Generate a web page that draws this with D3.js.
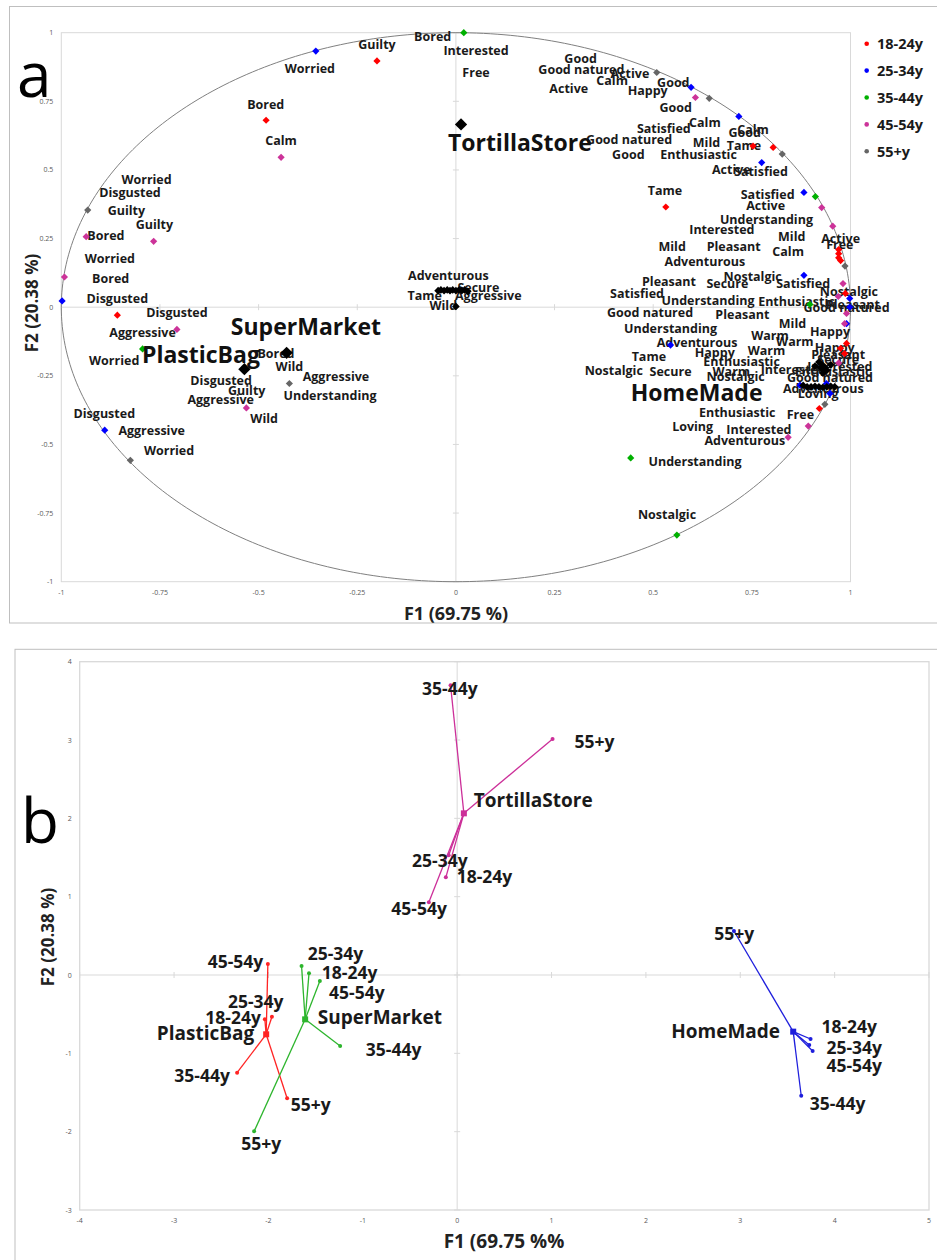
<!DOCTYPE html>
<html><head><meta charset="utf-8">
<script src="https://cdn.jsdelivr.net/npm/d3@7"></script>
<style>body{margin:0;background:#fff} svg{display:block} text{font-family:"Open Sans",sans-serif}</style>
</head><body><svg id="c" width="937" height="1260"></svg>
<script>
// ---------- Panel a data: variable coordinates (F1, F2) by age group ----------
const groupNames = ["18-24y","25-34y","35-44y","45-54y","55+y"];
const groupColors = ["#ff0000","#0000ff","#00b000","#cc3399","#666666"];
const ptsA_18_24 = [[-0.200,0.897],[-0.481,0.681],[-0.858,-0.029],[0.532,0.365],[0.753,0.587],[0.804,0.582],[0.970,0.210],[0.970,0.195],[0.970,0.180],[0.975,0.170],[0.987,0.050],[0.990,-0.132],[0.985,-0.169],[0.975,-0.150],[0.921,-0.369]];
const ptsA_25_34 = [[-0.355,0.933],[-0.998,0.023],[-0.890,-0.448],[0.596,0.801],[0.717,0.695],[0.775,0.527],[0.882,0.418],[0.882,0.116],[0.998,0.032],[0.998,0.000],[0.544,-0.138],[0.990,-0.060],[0.872,-0.284],[0.939,-0.278],[0.948,-0.314]];
const ptsA_35_44 = [[0.020,1.000],[-0.794,-0.152],[0.911,0.403],[0.897,0.010],[0.443,-0.549],[0.560,-0.830]];
const ptsA_45_54 = [[-0.443,0.546],[-0.937,0.257],[-0.766,0.240],[-0.992,0.110],[-0.707,-0.081],[-0.531,-0.367],[0.607,0.764],[0.927,0.363],[0.955,0.295],[0.981,0.086],[0.969,0.039],[0.990,-0.023],[0.985,-0.060],[0.970,-0.203],[0.893,-0.433],[0.842,-0.474]];
const ptsA_55 = [[-0.933,0.354],[-0.422,-0.278],[-0.825,-0.558],[0.509,0.855],[0.642,0.761],[0.827,0.558],[0.986,0.150],[0.935,-0.354]];
const smallBlackA = [[-0.045,0.060],[-0.038,0.063],[-0.030,0.060],[-0.022,0.063],[-0.015,0.060],[-0.008,0.063],[0.000,0.060],[0.008,0.063],[0.015,0.060],[0.022,0.063],[0.030,0.058],[0.000,0.003],
  [0.880,-0.285],[0.890,-0.290],[0.900,-0.290],[0.910,-0.288],[0.920,-0.290],[0.930,-0.292],[0.940,-0.290],[0.950,-0.288],[0.960,-0.290],[0.930,-0.240],[0.940,-0.230],[0.950,-0.210],[0.920,-0.200],[0.910,-0.215]];
const productsA = [["TortillaStore",0.013,0.666],["PlasticBag",-0.536,-0.226],["SuperMarket",-0.429,-0.166],["HomeMade",0.930,-0.220]];
const productLabelsA = [["TortillaStore",0.162,0.601],["SuperMarket",-0.380,-0.069],["PlasticBag",-0.646,-0.169],["HomeMade",0.610,-0.308]];
const wordLabelsA = [
["Bored",-0.059,0.987],["Interested",0.051,0.936],["Free",0.051,0.855],["Worried",-0.370,0.870],["Guilty",-0.200,0.958],
["Bored",-0.482,0.740],["Calm",-0.443,0.608],["Worried",-0.784,0.466],["Disgusted",-0.826,0.418],["Guilty",-0.835,0.353],
["Bored",-0.887,0.261],["Guilty",-0.764,0.300],["Worried",-0.877,0.179],["Bored",-0.875,0.106],["Disgusted",-0.858,0.033],
["Disgusted",-0.707,-0.021],["Aggressive",-0.794,-0.092],["Worried",-0.866,-0.195],["Bored",-0.456,-0.169],["Wild",-0.422,-0.217],
["Aggressive",-0.304,-0.254],["Understanding",-0.319,-0.321],["Disgusted",-0.595,-0.266],["Guilty",-0.530,-0.305],["Aggressive",-0.596,-0.337],
["Wild",-0.486,-0.407],["Disgusted",-0.891,-0.387],["Aggressive",-0.771,-0.450],["Worried",-0.727,-0.523],
["Adventurous",-0.019,0.114],["Secure",0.057,0.072],["Tame",-0.079,0.044],["Aggressive",0.082,0.044],["Wild",-0.032,0.005],
["Good",0.316,0.906],["Good natured",0.318,0.866],["Active",0.286,0.796],["Active",0.441,0.853],["Calm",0.396,0.826],
["Happy",0.486,0.790],["Good",0.551,0.817],["Good",0.557,0.726],["Satisfied",0.527,0.651],["Calm",0.631,0.672],
["Calm",0.753,0.649],["Good",0.732,0.636],["Good natured",0.439,0.610],["Mild",0.635,0.601],["Tame",0.730,0.589],
["Good",0.437,0.557],["Enthusiastic",0.615,0.557],["Active",0.698,0.501],["Satisfied",0.773,0.493],["Tame",0.530,0.426],
["Satisfied",0.790,0.410],["Active",0.785,0.370],["Understanding",0.787,0.319],["Interested",0.674,0.283],["Mild",0.851,0.258],
["Active",0.975,0.249],["Free",0.973,0.229],["Mild",0.548,0.220],["Pleasant",0.704,0.222],["Calm",0.842,0.204],
["Adventurous",0.631,0.166],["Pleasant",0.540,0.095],["Secure",0.688,0.086],["Nostalgic",0.752,0.113],["Satisfied",0.880,0.085],
["Nostalgic",0.996,0.058],["Satisfied",0.459,0.050],["Understanding",0.639,0.025],["Enthusiastic",0.863,0.019],["Pleasant",1.006,0.011],
["Good natured",0.990,-0.001],["Good natured",0.492,-0.020],["Pleasant",0.726,-0.028],["Understanding",0.544,-0.079],["Mild",0.853,-0.059],
["Happy",0.948,-0.087],["Warm",0.796,-0.102],["Warm",0.859,-0.124],["Adventurous",0.611,-0.127],["Happy",0.960,-0.145],
["Warm",0.787,-0.157],["Tame",0.489,-0.178],["Happy",0.656,-0.166],["Enthusiastic",0.724,-0.197],["Pleasant",0.969,-0.171],
["Secure",0.969,-0.191],["Nostalgic",0.400,-0.232],["Secure",0.544,-0.233],["Warm",0.698,-0.236],["Nostalgic",0.709,-0.254],
["Interested",0.855,-0.226],["Interested",0.973,-0.215],["Enthusiastic",0.956,-0.236],["Good natured",0.948,-0.257],["Adventurous",0.931,-0.296],
["Loving",0.918,-0.314],["Enthusiastic",0.713,-0.382],["Free",0.873,-0.391],["Loving",0.600,-0.436],["Interested",0.768,-0.445],
["Adventurous",0.732,-0.487],["Understanding",0.606,-0.563],["Nostalgic",0.535,-0.757]];
const ticksA = [-1,-0.75,-0.5,-0.25,0,0.25,0.5,0.75,1];

// ---------- Panel b data: product centroids and partial points by age group ----------
const productsB = [["TortillaStore",0.071,2.064],["PlasticBag",-2.024,-0.757],["SuperMarket",-1.611,-0.566],["HomeMade",3.561,-0.723]];
const productColorsB = ["#cc2f99","#ff2424","#2db52d","#1e1edc"];
const productLabelsB = [["TortillaStore",0.806,2.234],["PlasticBag",-2.667,-0.744],["SuperMarket",-0.819,-0.532],["HomeMade",2.845,-0.715]];
const ageB_Tortilla = [["18-24y",-0.120,1.247],["25-34y",-0.090,1.530],["35-44y",-0.070,3.700],["45-54y",-0.300,0.928],["55+y",1.011,3.013]];
const ageB_PlasticBag = [["18-24y",-2.038,-0.566],["25-34y",-1.963,-0.532],["35-44y",-2.332,-1.247],["45-54y",-2.006,0.140],["55+y",-1.802,-1.574]];
const ageB_SuperMarket = [["18-24y",-1.570,0.021],["25-34y",-1.649,0.115],["35-44y",-1.240,-0.906],["45-54y",-1.455,-0.077],["55+y",-2.152,-1.996]];
const ageB_HomeMade = [["18-24y",3.745,-0.817],["25-34y",3.731,-0.894],["35-44y",3.646,-1.541],["45-54y",3.767,-0.970],["55+y",2.933,0.562]];
const ageLabelsB_Tortilla = [["18-24y",0.290,1.268],["25-34y",-0.183,1.468],["35-44y",-0.077,3.668],["45-54y",-0.403,0.852],["55+y",1.454,2.987]];
const ageLabelsB_PlasticBag = [["18-24y",-2.374,-0.540],["25-34y",-2.134,-0.332],["35-44y",-2.703,-1.277],["45-54y",-2.349,0.179],["55+y",-1.551,-1.651]];
const ageLabelsB_SuperMarket = [["18-24y",-1.140,0.042],["25-34y",-1.289,0.277],["35-44y",-0.674,-0.945],["45-54y",-1.063,-0.221],["55+y",-2.077,-2.149]];
const ageLabelsB_HomeMade = [["18-24y",4.155,-0.647],["25-34y",4.208,-0.923],["35-44y",4.032,-1.630],["45-54y",4.208,-1.149],["55+y",2.936,0.540]];
const ticksBx = [-4,-3,-2,-1,0,1,2,3,4,5];
const ticksBy = [-3,-2,-1,0,1,2,3,4];

const svg = d3.select("#c");
const gridCol = "#d9d9d9", tickCol = "#595959";

// ================= PANEL A =================
svg.append("rect").attr("x",9.5).attr("y",6.5).attr("width",940).attr("height",616.5).attr("fill","none").attr("stroke","#bfbfbf");
const xA = d3.scaleLinear([-1,1],[61.3,850.5]);
const yA = d3.scaleLinear([-1,1],[581.7,32.7]);
const gA = svg.append("g");
gA.append("rect").attr("x",xA(-1)).attr("y",yA(1)).attr("width",xA(1)-xA(-1)).attr("height",yA(-1)-yA(1)).attr("fill","none").attr("stroke",gridCol);
gA.append("line").attr("x1",xA(-1)).attr("x2",xA(1)).attr("y1",yA(0)).attr("y2",yA(0)).attr("stroke",gridCol);
gA.append("line").attr("x1",xA(0)).attr("x2",xA(0)).attr("y1",yA(-1)).attr("y2",yA(1)).attr("stroke",gridCol);
gA.selectAll(".tx").data(ticksA).join("line").attr("x1",d=>xA(d)).attr("x2",d=>xA(d)).attr("y1",yA(0)-3).attr("y2",yA(0)+3).attr("stroke",gridCol);
gA.selectAll(".ty").data(ticksA).join("line").attr("y1",d=>yA(d)).attr("y2",d=>yA(d)).attr("x1",xA(0)-3).attr("x2",xA(0)+3).attr("stroke",gridCol);
gA.selectAll(".txl").data(ticksA).join("text").attr("x",d=>xA(d)).attr("y",yA(-1)+13).attr("text-anchor","middle").attr("font-size",7).attr("fill",tickCol).attr("font-family","Liberation Sans").text(d=>d);
gA.selectAll(".tyl").data(ticksA).join("text").attr("x",xA(-1)-8).attr("y",d=>yA(d)+2.5).attr("text-anchor","end").attr("font-size",7).attr("fill",tickCol).attr("font-family","Liberation Sans").text(d=>d);
// correlation circle
const ang = d3.range(0,361,1).map(a=>a*Math.PI/180);
gA.append("path").attr("d",d3.line().x(a=>xA(Math.cos(a))).y(a=>yA(Math.sin(a)))(ang)).attr("fill","none").attr("stroke","#808080").attr("stroke-width",1);
// axis titles
svg.append("text").attr("x",456).attr("y",613).attr("text-anchor","middle").attr("dominant-baseline","central").attr("font-size",18).attr("font-weight","bold").attr("fill","#222").text("F1 (69.75 %)");
svg.append("text").attr("transform","translate(31,303) rotate(-90)").attr("text-anchor","middle").attr("dominant-baseline","central").attr("font-size",17).attr("font-weight","bold").attr("fill","#222").text("F2 (20.38 %)");
// word labels
gA.selectAll(".wl").data(wordLabelsA).join("text").attr("x",d=>xA(d[1])).attr("y",d=>yA(d[2])).attr("text-anchor","middle").attr("dominant-baseline","central").attr("font-size",12.5).attr("font-weight","bold").attr("fill","#1a1a1a").text(d=>d[0]);
// colored diamonds
const diamond = d3.symbol().type(d3.symbolSquare);
const groupsA = [ptsA_18_24, ptsA_25_34, ptsA_35_44, ptsA_45_54, ptsA_55];
groupsA.forEach((pts,i)=>{
  gA.append("g").selectAll("path").data(pts).join("path").attr("d",diamond.size(26)()).attr("transform",d=>`translate(${xA(d[0])},${yA(d[1])}) rotate(45)`).attr("fill",groupColors[i]);
});
gA.append("g").selectAll("path").data(smallBlackA).join("path").attr("d",d3.symbol().type(d3.symbolSquare).size(30)()).attr("transform",d=>`translate(${xA(d[0])},${yA(d[1])}) rotate(45)`).attr("fill","#000");
gA.append("g").selectAll("path").data(productsA).join("path").attr("d",d3.symbol().type(d3.symbolSquare).size(75)()).attr("transform",d=>`translate(${xA(d[1])},${yA(d[2])}) rotate(45)`).attr("fill","#000");
gA.selectAll(".pl").data(productLabelsA).join("text").attr("x",d=>xA(d[1])).attr("y",d=>yA(d[2])).attr("text-anchor","middle").attr("dominant-baseline","central").attr("font-size",23).attr("font-weight","bold").attr("fill","#111").text(d=>d[0]);
// legend
const leg = svg.append("g");
groupNames.forEach((n,i)=>{
  const y = 43.7 + i*26.9;
  leg.append("circle").attr("cx",866.7).attr("cy",y).attr("r",2.3).attr("fill",groupColors[i]);
  leg.append("text").attr("x",877).attr("y",y).attr("dominant-baseline","central").attr("font-size",14.5).attr("font-weight","bold").attr("fill","#1a1a1a").text(n);
});
svg.append("text").attr("x",17).attr("y",97).attr("font-family","Liberation Sans").attr("font-size",62).attr("fill","#000").text("a");

// ================= PANEL B =================
svg.append("rect").attr("x",15).attr("y",649.3).attr("width",940).attr("height",640).attr("fill","none").attr("stroke","#bfbfbf");
const xB = d3.scaleLinear([-4,5],[79.7,929]);
const yB = d3.scaleLinear([-3,4],[1210,661.7]);
const gB = svg.append("g");
gB.append("rect").attr("x",xB(-4)).attr("y",yB(4)).attr("width",xB(5)-xB(-4)).attr("height",yB(-3)-yB(4)).attr("fill","none").attr("stroke",gridCol).attr("stroke-width",1.3);
gB.append("line").attr("x1",xB(-4)).attr("x2",xB(5)).attr("y1",yB(0)).attr("y2",yB(0)).attr("stroke",gridCol);
gB.append("line").attr("x1",xB(0)).attr("x2",xB(0)).attr("y1",yB(-3)).attr("y2",yB(4)).attr("stroke",gridCol);
gB.selectAll(".tx").data(ticksBx).join("line").attr("x1",d=>xB(d)).attr("x2",d=>xB(d)).attr("y1",yB(0)-3).attr("y2",yB(0)+3).attr("stroke",gridCol);
gB.selectAll(".ty").data(ticksBy).join("line").attr("y1",d=>yB(d)).attr("y2",d=>yB(d)).attr("x1",xB(0)-3).attr("x2",xB(0)+3).attr("stroke",gridCol);
gB.selectAll(".txl").data(ticksBx).join("text").attr("x",d=>xB(d)).attr("y",yB(-3)+13).attr("text-anchor","middle").attr("font-size",7).attr("fill",tickCol).attr("font-family","Liberation Sans").text(d=>d);
gB.selectAll(".tyl").data(ticksBy).join("text").attr("x",xB(-4)-8).attr("y",d=>yB(d)+2.5).attr("text-anchor","end").attr("font-size",7).attr("fill",tickCol).attr("font-family","Liberation Sans").text(d=>d);
svg.append("text").attr("x",504).attr("y",1241).attr("text-anchor","middle").attr("dominant-baseline","central").attr("font-size",19).attr("font-weight","bold").attr("fill","#222").text("F1 (69.75 %%");
svg.append("text").attr("transform","translate(47,937) rotate(-90)").attr("text-anchor","middle").attr("dominant-baseline","central").attr("font-size",17).attr("font-weight","bold").attr("fill","#222").text("F2 (20.38 %)");
const ageSets = [ageB_Tortilla, ageB_PlasticBag, ageB_SuperMarket, ageB_HomeMade];
const ageLabelSets = [ageLabelsB_Tortilla, ageLabelsB_PlasticBag, ageLabelsB_SuperMarket, ageLabelsB_HomeMade];
productsB.forEach((p,i)=>{
  const col = productColorsB[i];
  const g = gB.append("g");
  g.selectAll("line").data(ageSets[i]).join("line").attr("x1",xB(p[1])).attr("y1",yB(p[2])).attr("x2",d=>xB(d[1])).attr("y2",d=>yB(d[2])).attr("stroke",col).attr("stroke-width",1.3);
  g.selectAll("circle").data(ageSets[i]).join("circle").attr("cx",d=>xB(d[1])).attr("cy",d=>yB(d[2])).attr("r",2).attr("fill",col);
  g.append("rect").attr("x",xB(p[1])-3).attr("y",yB(p[2])-3).attr("width",6).attr("height",6).attr("fill",col);
  g.selectAll("text").data(ageLabelSets[i]).join("text").attr("x",d=>xB(d[1])).attr("y",d=>yB(d[2])).attr("text-anchor","middle").attr("dominant-baseline","central").attr("font-size",17.5).attr("font-weight","bold").attr("fill","#1a1a1a").text(d=>d[0]);
});
gB.selectAll(".plb").data(productLabelsB).join("text").attr("x",d=>xB(d[1])).attr("y",d=>yB(d[2])).attr("text-anchor","middle").attr("dominant-baseline","central").attr("font-size",19).attr("font-weight","bold").attr("fill","#1a1a1a").text(d=>d[0]);
svg.append("text").attr("x",21).attr("y",843).attr("font-family","Liberation Sans").attr("font-size",62).attr("fill","#000").text("b");
</script></body></html>
